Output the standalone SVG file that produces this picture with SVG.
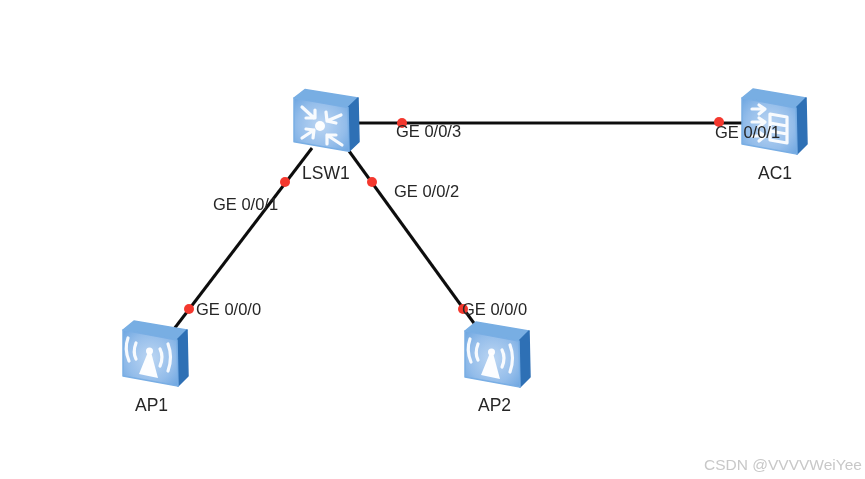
<svg xmlns="http://www.w3.org/2000/svg" width="865" height="479" viewBox="0 0 865 479">
<style>
text{font-family:"Liberation Sans",Arial,sans-serif;font-size:16px;fill:#262626}
.name{font-size:17.500px}
.port{font-size:16.500px}
.link{stroke:#111;stroke-width:3;fill:none}
.dot{fill:#f4392f}
.gl{fill:none;stroke:#fff;stroke-width:3.200;stroke-linecap:round;stroke-linejoin:round;opacity:.92}
.glf{fill:#fff;opacity:.96}
.soft{filter:url(#soft)}
</style>
<defs>
<filter id="soft" x="-5%" y="-5%" width="110%" height="110%"><feGaussianBlur stdDeviation="0.450"/></filter>
<radialGradient id="front" cx=".5" cy=".5" r=".72">
<stop offset="0" stop-color="#bcd6f3"/><stop offset=".6" stop-color="#94bdea"/><stop offset="1" stop-color="#6aa4e0"/>
</radialGradient>
<g id="box" stroke-linejoin="round">
<path d="M0 0L11-9L64 0L54 10Z" fill="#78aee3" stroke="#78aee3" stroke-width="1.500"/>
<path d="M54 10L64 0L65 46L55 56Z" fill="#2f70b5" stroke="#2f70b5" stroke-width="1.500"/>
<path d="M0 0L54 10L55 56L0 46Z" fill="url(#front)" stroke="#79aee4" stroke-width="1.500"/>
</g>
<g id="ap-icon">
<path class="glf" d="M25 22L28 22L35 48L16 44Z"/>
<circle class="glf" cx="26.500" cy="21" r="3.500"/>
<path class="gl" d="M13 13Q9.500 22 13 29M37 19Q41 27 37 36"/>
<path class="gl" d="M5 8Q1 19 6 31M45 14Q50 27 45 41"/>
</g>
</defs>
<rect width="865" height="479" fill="#fff"/>
<g class="soft">
<g id="connectors">
<path class="link" d="M356 123L742 123"/>
<path class="link" d="M312 148L174 329"/>
<path class="link" d="M349 151L476 326"/>
<circle class="dot" cx="402" cy="123" r="5"/>
<circle class="dot" cx="719" cy="122" r="5"/>
<circle class="dot" cx="285" cy="182" r="5"/>
<circle class="dot" cx="372" cy="182" r="5"/>
<circle class="dot" cx="189" cy="309" r="5"/>
<circle class="dot" cx="463" cy="309" r="5"/>
</g>
<g id="LSW1">
<use href="#box" transform="translate(294 98) scale(1 .95)"/>
<circle class="glf" cx="320" cy="126" r="5"/>
<path class="gl" d="M302 107L314 118M315 110V118H306M341 115L327 121M326 112L327 121L336 123M302 138L314 130M306 129L314 130L313 138M342 145L327 135M327 144V135H336"/>
<text class="name" x="302" y="179">LSW1</text>
</g>
<g id="AC1">
<use href="#box" x="742" y="98"/>
<path class="gl" d="M752 109H764M759 105L765 109L759 114M752 122H764M759 118L765 122L759 127M752 136H764M759 132L765 136L759 141"/>
<path class="gl" d="M770 114L787 117V143L770 140ZM770 123L787 126M770 131L787 134" stroke-width="2.400"/>
<text class="name" x="758" y="179">AC1</text>
</g>
<g id="AP1">
<use href="#box" x="123" y="330"/>
<use href="#ap-icon" x="123" y="330"/>
<text class="name" x="135" y="411">AP1</text>
</g>
<g id="AP2">
<use href="#box" x="465" y="331"/>
<use href="#ap-icon" x="465" y="331"/>
<text class="name" x="478" y="411">AP2</text>
</g>
<g id="labels">
<text class="port" x="396" y="137">GE 0/0/3</text>
<text class="port" x="715" y="138">GE 0/0/1</text>
<text class="port" x="213" y="210">GE 0/0/1</text>
<text class="port" x="394" y="197">GE 0/0/2</text>
<text class="port" x="196" y="315">GE 0/0/0</text>
<text class="port" x="462" y="315">GE 0/0/0</text>
<text x="704" y="470" style="font-size:15.500px;fill:#c8c8c8">CSDN @VVVVWeiYee</text>
</g>
</g>
</svg>
